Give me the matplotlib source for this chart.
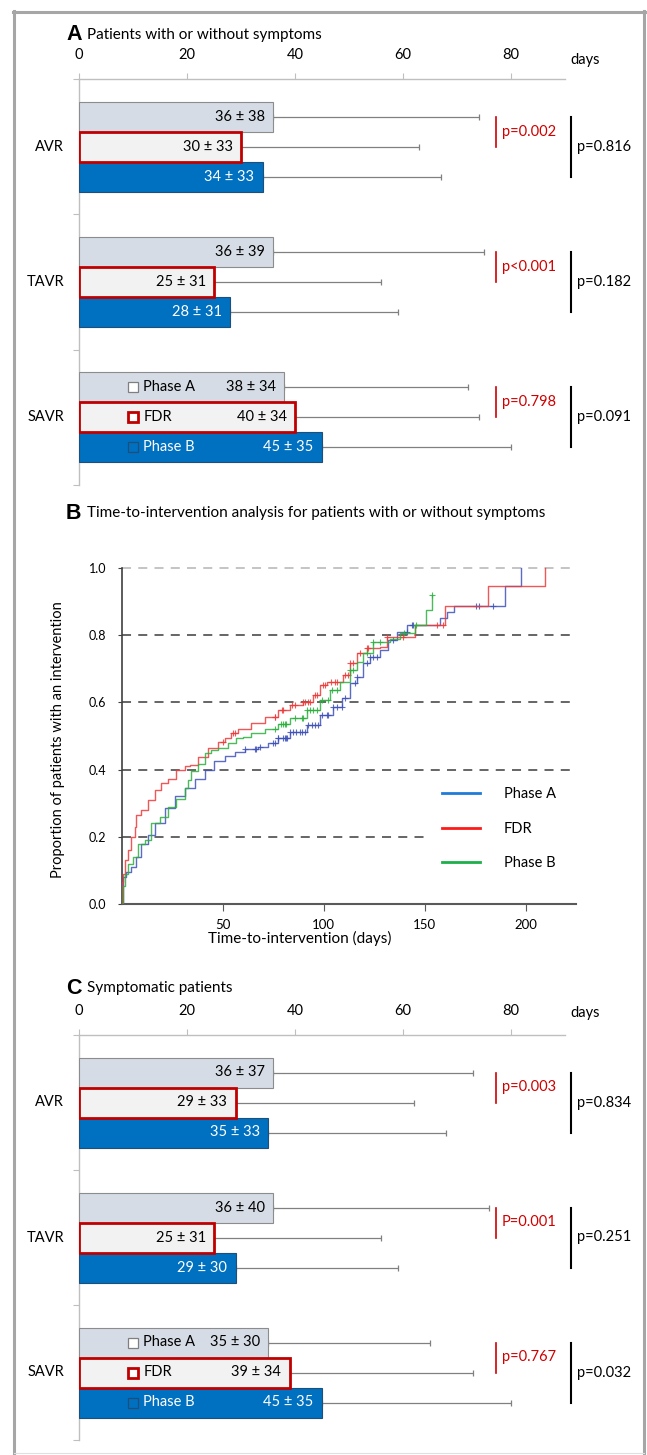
import numpy as np
import matplotlib.pyplot as plt
from matplotlib.lines import Line2D

plt.rcParams['font.family'] = ['Lato', 'DejaVu Sans']

W, H = 647, 1455

groups = ['AVR', 'TAVR', 'SAVR']
phases = ['Phase A', 'FDR', 'Phase B']
day_ticks = [0, 20, 40, 60, 80]

# panel A: patients with or without symptoms (mean, SD in days)
a_phase_a_mean = [36, 36, 38]
a_phase_a_sd = [38, 39, 34]
a_fdr_mean = [30, 25, 40]
a_fdr_sd = [33, 31, 34]
a_phase_b_mean = [34, 28, 45]
a_phase_b_sd = [33, 31, 35]
a_p_fdr = ['p=0.002', 'p<0.001', 'p=0.798']
a_p_phase = ['p=0.816', 'p=0.182', 'p=0.091']

# panel C: symptomatic patients
c_phase_a_mean = [36, 36, 35]
c_phase_a_sd = [37, 40, 30]
c_fdr_mean = [29, 25, 39]
c_fdr_sd = [33, 31, 34]
c_phase_b_mean = [35, 29, 45]
c_phase_b_sd = [33, 30, 35]
c_p_fdr = ['p=0.003', 'P=0.001', 'p=0.767']
c_p_phase = ['p=0.834', 'p=0.251', 'p=0.032']

# panel B: cumulative incidence of intervention
km_a_t = [0, 0.7, 2.3, 4.8, 7.3, 9.8, 13.1, 16.4, 21.3, 26.3, 31.2, 36.2, 41.1, 46, 51, 56,
          60.9, 67.5, 72.5, 77.4, 83.4, 91.6, 98.2, 104.8, 109, 113.1, 116.4, 119.7, 123,
          128, 132.1, 136.2, 141.2, 157.6, 161, 164.7, 189.8, 197.6]
km_a_p = [0, 0.08, 0.095, 0.11, 0.14, 0.18, 0.204, 0.24, 0.285, 0.32, 0.345, 0.372, 0.4,
          0.425, 0.44, 0.452, 0.46, 0.468, 0.48, 0.495, 0.513, 0.533, 0.562, 0.587, 0.612,
          0.657, 0.677, 0.716, 0.736, 0.756, 0.786, 0.81, 0.83, 0.85, 0.868, 0.888, 0.945, 1.0]
km_a_cens = [60.9, 65.9, 66.7, 68.3, 75.8, 77.4, 80.7, 81.5, 75.1, 77.6, 80.1, 81.7, 83.4, 85,
             86.6, 88.3, 89.1, 90.8, 92.4, 94.1, 95.7, 97.4, 99.1, 101.5, 102.3, 104.8, 106.5,
             108.9, 110.6, 115.5, 116.4, 121.4, 123, 124.6, 126.3, 134.5, 144.4, 141.1, 143.6,
             175.4, 176.8, 183.7]

km_f_t = [0, 0.3, 0.7, 1.5, 3.2, 4.8, 6.5, 7.3, 9.8, 13.1, 16.4, 19.7, 23, 27, 31.2, 33.7,
          37.8, 42.8, 47.7, 51, 54.3, 57.6, 64.2, 70.8, 77.4, 83.4, 90, 95, 98.2, 101.5,
          109.8, 113.1, 116.4, 121.4, 128, 131.3, 145.3, 160.1, 181.6, 209.6]
km_f_p = [0, 0.065, 0.09, 0.13, 0.16, 0.2, 0.23, 0.264, 0.28, 0.31, 0.34, 0.36, 0.373, 0.4,
          0.41, 0.413, 0.438, 0.463, 0.483, 0.493, 0.51, 0.522, 0.54, 0.557, 0.577, 0.592,
          0.602, 0.622, 0.652, 0.662, 0.682, 0.716, 0.746, 0.761, 0.766, 0.796, 0.83, 0.888,
          0.945, 1.0]
km_f_cens = [50.2, 55.2, 56, 76, 79.7, 75.9, 79.3, 84.2, 85.8, 90, 90.8, 92.4, 93.3, 95.7,
             96.6, 99.9, 100.7, 103.9, 105.6, 106.5, 110.6, 112.3, 113.1, 114.7, 118, 121.4,
             122.2, 131.3, 139.5, 156.3, 159.3]

km_b_t = [0, 0.7, 1.5, 3.2, 5.6, 8.1, 11.4, 14.7, 18.8, 23, 27, 31.2, 32.9, 34.5, 37.8, 41.1,
          44.4, 47.7, 52.7, 56.4, 60, 64.2, 70.8, 77.4, 83.4, 91.6, 98.2, 103.2, 108.1, 113.1,
          116.4, 119.7, 124.6, 132.9, 137.9, 145.3, 150.7, 153.8]
km_b_p = [0, 0.055, 0.09, 0.12, 0.14, 0.18, 0.19, 0.24, 0.26, 0.29, 0.313, 0.345, 0.37, 0.395,
          0.418, 0.448, 0.458, 0.463, 0.478, 0.493, 0.498, 0.508, 0.52, 0.535, 0.553, 0.577,
          0.607, 0.637, 0.662, 0.696, 0.721, 0.746, 0.781, 0.79, 0.806, 0.831, 0.875, 0.92]
km_b_cens = [78.9, 80.7, 81.5, 75.9, 80.1, 85.8, 89.1, 90, 91.6, 93.3, 94.9, 96.6, 99.1,
             102.3, 104, 106.5, 113.1, 114.7, 121.4, 124.6, 127.9, 139.8, 146, 153.8]

fig = plt.figure(figsize=(W / 100, H / 100), dpi=100)


def rect(left, top, right, bottom):
    return [left / W, 1 - bottom / H, (right - left) / W, (bottom - top) / H]


def fxy(x, y):
    return x / W, 1 - y / H


def panel_title(letter, text, y):
    fig.text(*fxy(66, y), letter, family='Liberation Sans', weight='bold', fontsize=15.5,
             va='center', ha='left')
    fig.text(*fxy(87, y), text, fontsize=11, va='center', ha='left')


def bar_panel(ax, means, sds, p_fdr, p_phase, label_y):
    h = 30 / 135
    styles = [('#D6DCE5', '#8C8C8C', 0.8, 'black', 3),
              ('#F2F2F2', '#C00000', 2.0, 'black', 4),
              ('#0070C0', '#1F4E79', 0.8, 'white', 3)]
    ypos = np.arange(len(groups)) + 0.5
    for j, (m, s, st) in enumerate(zip(means, sds, styles)):
        face, edge, lw, txt, z = st
        y = ypos + (j - 1) * h
        ax.errorbar(m, y, xerr=[np.zeros(len(m)), s], fmt='none', ecolor='#808080',
                    elinewidth=0.9, capsize=2.5, capthick=0.9, zorder=2)
        ax.barh(y, m, height=h, color=face, edgecolor=edge, linewidth=lw, zorder=z)
        for yy, mm, ss in zip(y, m, s):
            ax.annotate(f'{mm} ± {ss}', (mm, yy), xytext=(-6, 0), textcoords='offset points',
                        ha='right', va='center', color=txt, fontsize=10.5, zorder=6)
        # legend inside the SAVR bars
        ax.plot(10, y[-1], marker='s', ms=6.5, mfc=face if j == 2 else 'white',
                mec=edge if j != 0 else '#7F7F7F', mew=lw if j == 1 else 0.9,
                zorder=6, clip_on=False)
        ax.text(11.9, y[-1], phases[j], ha='left', va='center', color=txt,
                fontsize=10.5, zorder=6)

    for i, g in enumerate(groups):
        ya, yf, yb = ypos[i] - h, ypos[i], ypos[i] + h
        ax.text(-2.8, yf, g, ha='right', va='center', fontsize=10.5)
        ax.plot([77.2, 77.2], [ya, yf], color='#D00000', lw=1.2, clip_on=False)
        ax.text(78.3, (ya + yf) / 2, p_fdr[i], color='#D00000', ha='left', va='center',
                fontsize=10.5)
        ax.plot([91.1, 91.1], [ya, yb], color='black', lw=1.5, clip_on=False)
        ax.text(92.2, yf, p_phase[i], ha='left', va='center', fontsize=10.5)

    ax.set_xlim(0, 90)
    ax.set_ylim(3, 0)
    ax.xaxis.tick_top()
    ax.set_xticks(day_ticks)
    ax.tick_params(axis='x', direction='out', length=4, color='#BFBFBF', pad=8,
                   labelsize=10.5)
    ax.set_yticks([0, 1, 2, 3])
    ax.set_yticklabels([])
    ax.tick_params(axis='y', direction='out', length=4, color='#BFBFBF')
    ax.spines['right'].set_visible(False)
    ax.spines['bottom'].set_visible(False)
    for s in ['top', 'left']:
        ax.spines[s].set_color('#BFBFBF')
        ax.spines[s].set_linewidth(1)
    ax.set_facecolor('none')
    fig.text(*fxy(585, label_y), 'days', ha='center', va='center', fontsize=10.5)


# ---- panel A
panel_title('A', 'Patients with or without symptoms', 35)
ax_a = fig.add_axes(rect(79, 79, 565, 485))
bar_panel(ax_a, [a_phase_a_mean, a_fdr_mean, a_phase_b_mean],
          [a_phase_a_sd, a_fdr_sd, a_phase_b_sd], a_p_fdr, a_p_phase, 60)

# ---- panel B
panel_title('B', 'Time-to-intervention analysis for patients with or without symptoms', 513)
ax_b = fig.add_axes(rect(121.6, 561.3, 576, 904))
curves = [(km_a_t, km_a_p, km_a_cens, '#3F52B8'),
          (km_f_t, km_f_p, km_f_cens, '#EE3B3B'),
          (km_b_t, km_b_p, km_b_cens, '#2DAF3F')]
ax_b.hlines([0.2], 0, 151.7, colors='#595959', linestyles=(0, (5, 4)), lw=1.3, zorder=1)
ax_b.hlines([0.4, 0.6, 0.8], 0, 222.5, colors='#595959', linestyles=(0, (5, 4)), lw=1.3,
            zorder=1)
ax_b.hlines([1.0], 0, 222.5, colors='#BFBFBF', linestyles=(0, (5, 4)), lw=1.3, zorder=1)
for t, p, cens, col in curves:
    t = np.asarray(t)
    p = np.asarray(p)
    ax_b.plot(t, p, drawstyle='steps-post', color=col, lw=1.0, alpha=0.85, zorder=3)
    idx = np.searchsorted(t, cens, side='right') - 1
    ax_b.plot(cens, p[idx], ls='none', marker='+', ms=5, mew=0.8, color=col, alpha=0.85,
              zorder=3)
ax_b.set_xlim(0, 225)
ax_b.set_ylim(0, 1.02)
ax_b.set_xticks([50, 100, 150, 200])
ax_b.set_yticks([0, 0.2, 0.4, 0.6, 0.8, 1.0])
ax_b.set_yticklabels(['0.0', '0.2', '0.4', '0.6', '0.8', '1.0'])
ax_b.tick_params(axis='y', length=3, pad=8, labelsize=9, color='#404040')
ax_b.tick_params(axis='x', length=5, pad=6, labelsize=9.5, color='#595959')
ax_b.spines['right'].set_visible(False)
ax_b.spines['top'].set_visible(False)
ax_b.spines['left'].set_bounds(0, 1)
ax_b.spines['left'].set_color('#404040')
ax_b.spines['left'].set_linewidth(1.2)
ax_b.spines['bottom'].set_color('#595959')
ax_b.spines['bottom'].set_linewidth(1.5)
ax_b.set_facecolor('none')
handles = [Line2D([], [], color=c, lw=2) for c in ['#1F7BD8', '#FF1A1A', '#1DB04A']]
ax_b.legend(handles, phases, loc='upper left', bbox_to_anchor=(0.705, 0.34), frameon=False,
            borderpad=0, borderaxespad=0, handlelength=2.6, handletextpad=1.65,
            labelspacing=1.4, fontsize=10.5)
fig.text(*fxy(58, 740), 'Proportion of patients with an intervention', rotation=90,
         ha='center', va='center', fontsize=10.5)
fig.text(*fxy(300, 938), 'Time-to-intervention (days)', ha='center', va='center',
         fontsize=11)

# ---- panel C
panel_title('C', 'Symptomatic patients', 988)
ax_c = fig.add_axes(rect(79, 1035, 565, 1440))
bar_panel(ax_c, [c_phase_a_mean, c_fdr_mean, c_phase_b_mean],
          [c_phase_a_sd, c_fdr_sd, c_phase_b_sd], c_p_fdr, c_p_phase, 1013)

# outer frame
frame = dict(color='#A6A6A6', lw=2.2)
fig.add_artist(Line2D([13.5 / W, 13.5 / W], [1 - 10.5 / H, 0], **frame))
fig.add_artist(Line2D([12.5 / W, 645 / W], [1 - 11.5 / H, 1 - 11.5 / H], **frame))
fig.add_artist(Line2D([644 / W, 644 / W], [1 - 10.5 / H, 0], **frame))
fig.add_artist(Line2D([13.5 / W, 644 / W], [1 - 1453 / H, 1 - 1453 / H], color='#E0E0E0',
                      lw=0.8))

fig.savefig('out.png', dpi=100)
